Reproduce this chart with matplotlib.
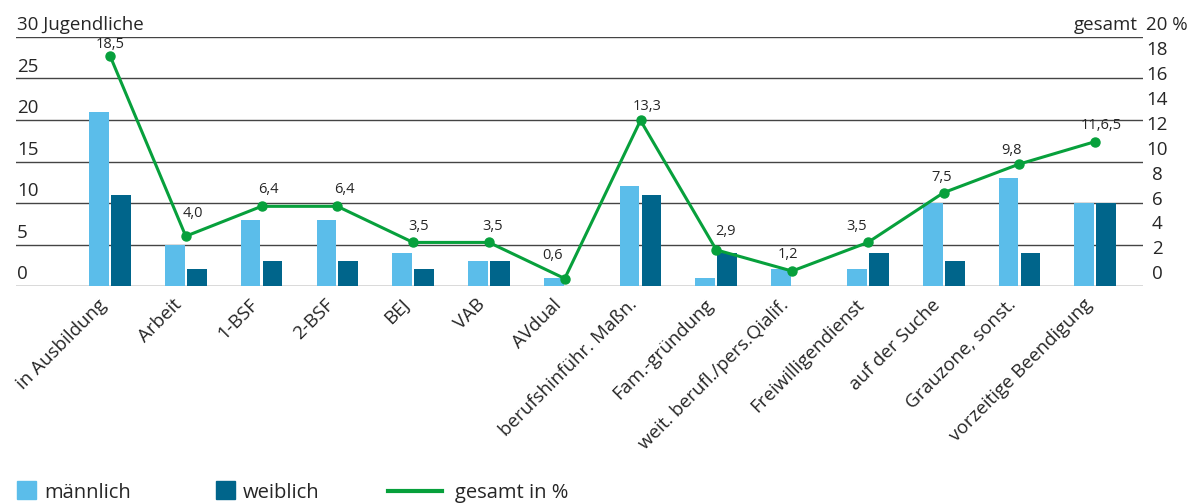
import matplotlib
matplotlib.use("Agg")
import matplotlib.pyplot as plt
import numpy as np
from matplotlib.patches import Rectangle
from matplotlib.lines import Line2D
from matplotlib.transforms import blended_transform_factory, ScaledTranslation

plt.rcParams['font.family'] = ['Open Sans', 'DejaVu Sans']

# ---------------- data ----------------
categories = ["in Ausbildung", "Arbeit", "1-BSF", "2-BSF", "BEJ", "VAB", "AVdual",
              "berufshinführ. Maßn.", "Fam.-gründung", "weit. berufl./pers.Qialif.",
              "Freiwilligendienst", "auf der Suche", "Grauzone, sonst.", "vorzeitige Beendigung"]
maennlich = [21, 5, 8, 8, 4, 3, 1, 12, 1, 2, 2, 10, 13, 10]
weiblich = [11, 2, 3, 3, 2, 3, 0, 11, 4, 0, 4, 3, 4, 10]
gesamt = [18.5, 4.0, 6.4, 6.4, 3.5, 3.5, 0.6, 13.3, 2.9, 1.2, 3.5, 7.5, 9.8, 11.6]
gesamt_labels = ["18,5", "4,0", "6,4", "6,4", "3,5", "3,5", "0,6", "13,3", "2,9", "1,2",
                 "3,5", "7,5", "9,8", "11,6,5"]
left_ticks = [0, 5, 10, 15, 20, 25, 30]
left_labels = ["0", "5", "10", "15", "20", "25", "30 Jugendliche"]
right_ticks = [0, 2, 4, 6, 8, 10, 12, 14, 16, 18]
right_labels = ["0", "2", "4", "6", "8", "10", "12", "14", "16", "18"]
right_top_tick = 20
right_top_label = "20 %"
right_title = "gesamt"
series_names = ["männlich", "weiblich", "gesamt in %"]

# ---------------- style ----------------
C_LIGHT = "#5BBDEA"
C_DARK = "#00658B"
C_GREEN = "#07A03C"
C_TEXT = "#262626"
C_GRID = "#444444"
# nudges (pixels) for the value labels of the line, to keep them clear of the line
label_nudge_x = [0, 7, 7, 7, 5, 4, -12, 7, 9, -4, -11, -2, -8, 6]
label_nudge_y = [4, 15, 9, 9, 8, 8, 16, 6, 11, 9, 8, 8, 6, 9]

W, H = 1187, 504
fig = plt.figure(figsize=(W / 100, H / 100), dpi=100)
ax_l, ax_r, ax_t, ax_b = 16, 1143, 37, 286
ax = fig.add_axes([ax_l / W, 1 - ax_b / H, (ax_r - ax_l) / W, (ax_b - ax_t) / H])
ax2 = ax.twinx()

x = np.arange(len(categories))
bw = 0.26
off = 0.145
ax.bar(x - off, maennlich, bw, color=C_LIGHT, zorder=2)
ax.bar(x + off, weiblich, bw, color=C_DARK, zorder=2)

ax.set_ylim(0, 30)
ax.set_xlim(-1.24, 13.63)
ax2.set_ylim(0, 20)

for v in left_ticks:
    ax.axhline(v, color=C_GRID, lw=1.0, zorder=1)

for a in (ax, ax2):
    for s in a.spines.values():
        s.set_visible(False)
    a.set_yticks([])
ax.set_xticks(x)
ax.set_xticklabels(categories, rotation=45, ha='right', fontsize=13.5, color=C_TEXT)
ax.tick_params(axis='x', length=0, pad=7)

# left tick labels
up = ScaledTranslation(0, 2 / 72, fig.dpi_scale_trans)
tl = blended_transform_factory(ax.transAxes, ax.transData)
for v, lab in zip(left_ticks, left_labels):
    ax.text(0.001, v, lab, transform=tl + up, ha='left', va='bottom',
            fontsize=13.5, color=C_TEXT)

# right tick labels
tr = blended_transform_factory(ax2.transAxes, ax2.transData)
rshift = ScaledTranslation(14 / 100, 2 / 72, fig.dpi_scale_trans)
for v, lab in zip(right_ticks, right_labels):
    ax2.text(1.0, v, lab, transform=tr + rshift, ha='center', va='bottom',
             fontsize=13.5, color=C_TEXT)
ax2.text(1.0, right_top_tick, right_top_label,
         transform=tr + ScaledTranslation(3 / 100, 2 / 72, fig.dpi_scale_trans),
         ha='left', va='bottom', fontsize=13.5, color=C_TEXT)
ax2.text(1.0, right_top_tick, right_title,
         transform=tr + ScaledTranslation(-5 / 100, 2 / 72, fig.dpi_scale_trans),
         ha='right', va='bottom', fontsize=13.5, color=C_TEXT)

# line
ax2.plot(x, gesamt, color=C_GREEN, lw=2.2, marker='o', ms=6.5, zorder=4)
for xi, v, lab, dx, dy in zip(x, gesamt, gesamt_labels, label_nudge_x, label_nudge_y):
    ax2.annotate(lab, (xi, v), xytext=(dx * 0.72, dy * 0.72), textcoords='offset points',
                 ha='center', va='bottom', fontsize=10.5, color=C_TEXT)

# legend (manual)
def px(xp, yp):
    return xp / W, 1 - yp / H

leg_base = 499
fig.patches.append(Rectangle(px(17, leg_base), 19 / W, 18 / H, transform=fig.transFigure,
                             color=C_LIGHT, figure=fig))
fig.patches.append(Rectangle(px(216, leg_base), 19 / W, 18 / H, transform=fig.transFigure,
                             color=C_DARK, figure=fig))
fig.lines.append(Line2D([388 / W, 442 / W], [1 - (leg_base - 8) / H] * 2,
                        transform=fig.transFigure, color=C_GREEN, lw=3, figure=fig))
for xp, name in zip([44, 243, 455], series_names):
    fig.text(xp / W, 1 - (leg_base - 1) / H, name, ha='left', va='baseline',
             fontsize=14.5, color=C_TEXT)

fig.savefig("out.png", dpi=100)
